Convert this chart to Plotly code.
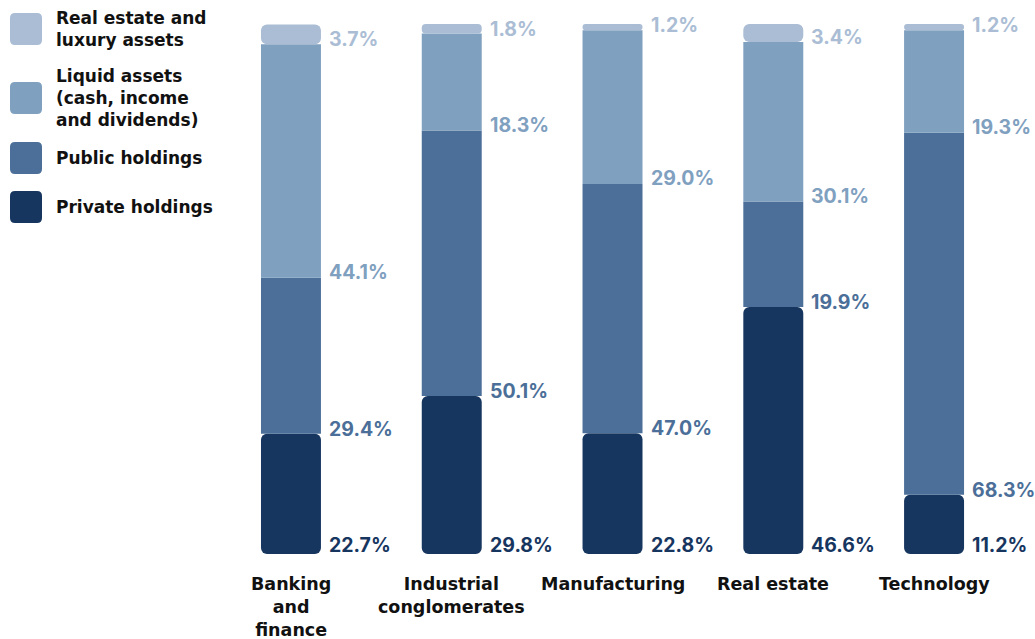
import plotly.graph_objects as go

# Sector categories and wealth composition (% of total)
categories = ["Banking<br>and<br>finance", "Industrial<br>conglomerates",
              "Manufacturing", "Real estate", "Technology"]
private_holdings = [22.7, 29.8, 22.8, 46.6, 11.2]
public_holdings = [29.4, 50.1, 47.0, 19.9, 68.3]
liquid_assets = [44.1, 18.3, 29.0, 30.1, 19.3]
real_estate_luxury = [3.7, 1.8, 1.2, 3.4, 1.2]

series_names = ["Real estate and<br>luxury assets",
                "Liquid assets<br>(cash, income<br>and dividends)",
                "Public holdings", "Private holdings"]
colors = {"private": "#17365f", "public": "#4b6f98",
          "liquid": "#7fa0bf", "re": "#aabdd4"}

TEXT_FONT = "DejaVu Sans"
NUM_FONT = "Inter"
W, H = 1035, 639
x = list(range(len(categories)))

# cumulative bases for each layer
base_public = private_holdings
base_liquid = [a + b for a, b in zip(private_holdings, public_holdings)]
base_re = [a + b for a, b in zip(base_liquid, liquid_assets)]

fig = go.Figure()
bw = 0.373
# private holdings drawn downward from its top so the rounded end sits at the bottom
fig.add_trace(go.Bar(x=x, y=[-v for v in private_holdings], base=private_holdings,
                     width=bw, marker=dict(color=colors["private"], cornerradius=6, line_width=0),
                     name="Private holdings", customdata=private_holdings,
                     hovertemplate="%{customdata}%<extra>Private holdings</extra>"))
fig.add_trace(go.Bar(x=x, y=public_holdings, base=base_public, width=bw,
                     marker=dict(color=colors["public"], cornerradius=0, line_width=0),
                     name="Public holdings"))
fig.add_trace(go.Bar(x=x, y=liquid_assets, base=base_liquid, width=bw,
                     marker=dict(color=colors["liquid"], cornerradius=0, line_width=0),
                     name="Liquid assets"))
fig.add_trace(go.Bar(x=x, y=real_estate_luxury, base=base_re, width=bw,
                     marker=dict(color=colors["re"], cornerradius=6, line_width=0),
                     name="Real estate and luxury assets"))

annotations = []
layers = [(private_holdings, [0] * len(x), colors["private"], 9),
          (public_holdings, base_public, colors["public"], 5),
          (liquid_assets, base_liquid, colors["liquid"], 6),
          (real_estate_luxury, base_re, colors["re"], 5)]
for vals, bases, col, dy in layers:
    for i, (v, b) in enumerate(zip(vals, bases)):
        annotations.append(dict(x=i, y=b, xref="x", yref="y", text=f"{v:.1f}%",
                                showarrow=False, xanchor="left", yanchor="middle",
                                xshift=36, yshift=dy,
                                font=dict(family=NUM_FONT, size=19.5, color=col, weight=700)))

# category labels under each bar
for i, c in enumerate(categories):
    annotations.append(dict(x=i, y=0, xref="x", yref="y", text=c, showarrow=False,
                            xanchor="center", yanchor="top", yshift=-18,
                            font=dict(family=TEXT_FONT, size=17.5, color="#111111", weight=700)))

# custom legend with rounded swatches
legend_items = [(series_names[0], colors["re"], 29),
                (series_names[1], colors["liquid"], 98),
                (series_names[2], colors["public"], 158),
                (series_names[3], colors["private"], 207)]
shapes = []
r, s = 5, 16
path = (f"M {-s + r},{-s} L {s - r},{-s} Q {s},{-s} {s},{-s + r} L {s},{s - r} "
        f"Q {s},{s} {s - r},{s} L {-s + r},{s} Q {-s},{s} {-s},{s - r} "
        f"L {-s},{-s + r} Q {-s},{-s} {-s + r},{-s} Z")
for name, col, cy in legend_items:
    shapes.append(dict(type="path", xref="paper", yref="paper",
                       xsizemode="pixel", ysizemode="pixel",
                       xanchor=26 / W, yanchor=1 - cy / H, path=path,
                       fillcolor=col, line=dict(width=0)))
    annotations.append(dict(x=54 / W, y=1 - cy / H, xref="paper", yref="paper",
                            text=name, showarrow=False, xanchor="left", yanchor="middle",
                            align="left",
                            font=dict(family=TEXT_FONT, size=17, color="#111111", weight=700)))

fig.update_layout(
    width=W, height=H, barmode="overlay", showlegend=False,
    margin=dict(l=0, r=0, t=0, b=0),
    paper_bgcolor="white", plot_bgcolor="white",
    xaxis=dict(domain=[240 / W, 995 / W], range=[-0.317, 4.379], visible=False),
    yaxis=dict(domain=[85 / H, 615 / H], range=[0, 100], visible=False),
    annotations=annotations, shapes=shapes,
    font=dict(family=TEXT_FONT),
)

fig.write_html("out.html")
